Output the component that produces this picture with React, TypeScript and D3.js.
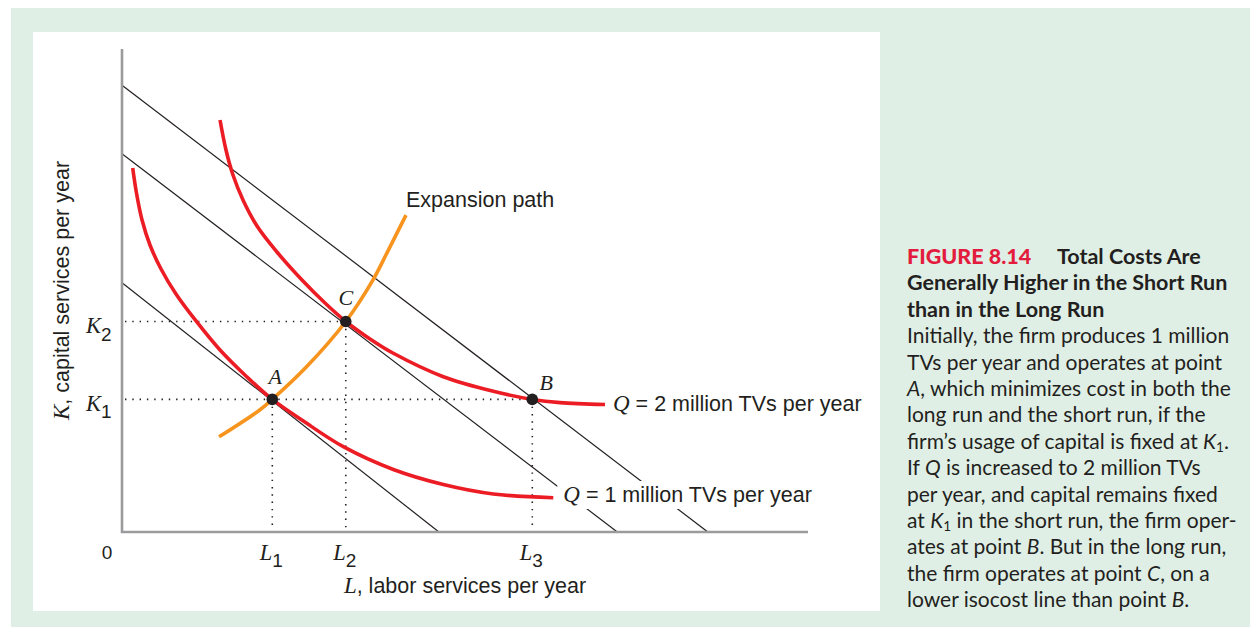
import React from "react";
import * as d3 from "d3";

// ---------- data ----------
// isocost lines: intercepts on K axis and on L axis (low, middle, high)
const isocostK = [5.16, 7.83, 9.25];
const isocostL = [4.62, 7.22, 8.54];

// isoquant Q = 1 million TVs per year  [L, K]
const isoquantQ1: [number, number][] = [
  [0.156, 7.536], [0.211, 7.019], [0.292, 6.46], [0.408, 5.942], [0.569, 5.445],
  [0.787, 4.928], [1.079, 4.369], [1.429, 3.768], [1.818, 3.215], [2.191, 2.745],
  [2.643, 2.298], [3.226, 1.766], [3.955, 1.294], [4.684, 0.983], [5.413, 0.787],
  [6.287, 0.71],
];

// isoquant Q = 2 million TVs per year  [L, K]
const isoquantQ2: [number, number][] = [
  [1.429, 8.53], [1.516, 7.909], [1.618, 7.391], [1.764, 6.874], [1.968, 6.335],
  [2.259, 5.797], [2.624, 5.217], [2.959, 4.741], [3.262, 4.358], [3.615, 3.996],
  [3.955, 3.7], [4.684, 3.215], [5.413, 2.913], [5.981, 2.745], [6.385, 2.679],
  [7.041, 2.64],
];

// expansion path  [L, K]
const expansionPath: [number, number][] = [
  [1.414, 1.97], [2.012, 2.53], [2.191, 2.745], [2.69, 3.42], [3.262, 4.358],
  [3.659, 5.22], [3.863, 5.78], [4.14, 6.56],
];

// labelled points
const pointNames = ["A", "B", "C"];
const pointL = [2.191, 5.981, 3.262];
const pointK = [2.745, 2.745, 4.358];

// axis tick labels
const kTickSubs = ["1", "2"];
const kTickValues = [2.745, 4.358];
const lTickSubs = ["1", "2", "3"];
const lTickValues = [2.191, 3.262, 5.981];

const q1Label = " = 1 million TVs per year";
const q2Label = " = 2 million TVs per year";
const expansionLabel = "Expansion path";
const xTitle = ", labor services per year";
const yTitle = ", capital services per year";

// caption
type Seg = { t: string; i?: boolean; sub?: boolean };
const captionFigure = "FIGURE 8.14";
const captionTitle = ["Total Costs Are", "Generally Higher in the Short Run", "than in the Long Run"];
const captionBody: Seg[][] = [
  [{ t: "Initially, the firm produces 1 million" }],
  [{ t: "TVs per year and operates at point" }],
  [{ t: "A", i: true }, { t: ", which minimizes cost in both the" }],
  [{ t: "long run and the short run, if the" }],
  [{ t: "firm\u2019s usage of capital is fixed at " }, { t: "K", i: true }, { t: "1", sub: true }, { t: "." }],
  [{ t: "If " }, { t: "Q", i: true }, { t: " is increased to 2 million TVs" }],
  [{ t: "per year, and capital remains fixed" }],
  [{ t: "at " }, { t: "K", i: true }, { t: "1", sub: true }, { t: " in the short run, the firm oper-" }],
  [{ t: "ates at point " }, { t: "B", i: true }, { t: ". But in the long run," }],
  [{ t: "the firm operates at point " }, { t: "C", i: true }, { t: ", on a" }],
  [{ t: "lower isocost line than point " }, { t: "B", i: true }, { t: "." }],
];

// ---------- styles ----------
const SANS = "'Liberation Sans', Arial, Helvetica, sans-serif";
const SERIF = "'Liberation Serif', 'Times New Roman', serif";
const CAP = "Lato, 'Open Sans', sans-serif";
const INK = "#231f20";
const RED = "#ec1c24";
const ORANGE = "#f7941d";
const AXIS = "#9b9b9d";

export default function App() {
  const x = d3.scaleLinear().domain([0, 10]).range([122, 808]);
  const y = d3.scaleLinear().domain([0, 10]).range([532, 49]);

  const curve = d3
    .line<[number, number]>()
    .x((d) => x(d[0]))
    .y((d) => y(d[1]))
    .curve(d3.curveCatmullRom.alpha(0.5));

  const dotted = { stroke: INK, strokeWidth: 1.6, strokeDasharray: "1.4 5.9", fill: "none" };

  const capX = 907;
  const capY0 = 264;
  const capLH = 26.4;
  const labelSize = 21.5;

  return (
    <svg
      width={1250}
      height={627}
      viewBox="0 0 1250 627"
      style={{ position: "absolute", left: 0, top: 0, display: "block" }}
    >
      <rect x={0} y={0} width={1250} height={627} fill="#ffffff" />
      <rect x={11} y={8} width={1239} height={619} fill="#e0efe6" />
      <rect x={33} y={32} width={847} height={579} fill="#ffffff" />

      {/* isocost lines */}
      {isocostK.map((k, i) => (
        <line
          key={"iso" + i}
          x1={x(0)}
          y1={y(k)}
          x2={x(isocostL[i])}
          y2={y(0)}
          stroke={INK}
          strokeWidth={1.2}
        />
      ))}

      {/* dotted guides */}
      {pointNames.map((n, i) => (
        <line key={"dg" + n} x1={x(pointL[i])} y1={y(pointK[i])} x2={x(pointL[i])} y2={y(0) - 2} style={dotted} />
      ))}
      <line x1={x(0) + 3} y1={y(kTickValues[0])} x2={x(pointL[1])} y2={y(kTickValues[0])} style={dotted} />
      <line x1={x(0) + 3} y1={y(kTickValues[1])} x2={x(pointL[2])} y2={y(kTickValues[1])} style={dotted} />

      {/* isoquants and expansion path */}
      <path d={curve(expansionPath) || ""} fill="none" stroke={ORANGE} strokeWidth={3.6} />
      <path d={curve(isoquantQ1) || ""} fill="none" stroke={RED} strokeWidth={3.6} />
      <path d={curve(isoquantQ2) || ""} fill="none" stroke={RED} strokeWidth={3.6} />

      {/* label background for Q=1 (breaks isocost lines) */}
      <rect
        x={x(isoquantQ1[isoquantQ1.length - 1][0]) + 4}
        y={481}
        width={255}
        height={28}
        fill="#ffffff"
      />

      {/* axes */}
      <path
        d={`M${x(0)},${y(10)}V${y(0)}H${x(10)}`}
        fill="none"
        stroke={AXIS}
        strokeWidth={2.6}
      />

      {/* points */}
      {pointNames.map((n, i) => (
        <circle key={"pt" + n} cx={x(pointL[i])} cy={y(pointK[i])} r={5.8} fill={INK} />
      ))}
      <text x={x(pointL[0]) + 3} y={y(pointK[0]) - 15.5} fontFamily={SERIF} fontStyle="italic" fontSize={22} fill={INK} textAnchor="middle">
        {pointNames[0]}
      </text>
      <text x={x(pointL[1]) + 14} y={y(pointK[1]) - 9.5} fontFamily={SERIF} fontStyle="italic" fontSize={22} fill={INK} textAnchor="middle">
        {pointNames[1]}
      </text>
      <text x={x(pointL[2])} y={y(pointK[2]) - 16.5} fontFamily={SERIF} fontStyle="italic" fontSize={22} fill={INK} textAnchor="middle">
        {pointNames[2]}
      </text>

      {/* curve labels */}
      <text
        x={x(isoquantQ2[isoquantQ2.length - 1][0]) + 8}
        y={y(isoquantQ2[isoquantQ2.length - 1][1]) + 6.5}
        fontFamily={SANS}
        fontSize={labelSize}
        fill={INK}
      >
        <tspan fontFamily={SERIF} fontStyle="italic" fontSize={23}>Q</tspan>
        {q2Label}
      </text>
      <text
        x={x(isoquantQ1[isoquantQ1.length - 1][0]) + 10}
        y={y(isoquantQ1[isoquantQ1.length - 1][1]) + 4.5}
        fontFamily={SANS}
        fontSize={labelSize}
        fill={INK}
      >
        <tspan fontFamily={SERIF} fontStyle="italic" fontSize={23}>Q</tspan>
        {q1Label}
      </text>
      <text
        x={x(expansionPath[expansionPath.length - 1][0])}
        y={y(expansionPath[expansionPath.length - 1][1]) - 8}
        fontFamily={SANS}
        fontSize={labelSize}
        fill={INK}
      >
        {expansionLabel}
      </text>

      {/* K tick labels */}
      {kTickSubs.map((s, i) => (
        <text key={"kt" + s} x={86} y={y(kTickValues[i]) + 11.5} fontSize={22.5} fill={INK}>
          <tspan fontFamily={SERIF} fontStyle="italic">K</tspan>
          <tspan fontFamily={SANS} fontSize={19} dy={7.5}>{s}</tspan>
        </text>
      ))}
      {/* L tick labels */}
      {lTickSubs.map((s, i) => (
        <text key={"lt" + s} x={x(lTickValues[i]) - 12.5} y={560} fontSize={22.5} fill={INK}>
          <tspan fontFamily={SERIF} fontStyle="italic">L</tspan>
          <tspan fontFamily={SANS} fontSize={19} dy={7}>{s}</tspan>
        </text>
      ))}
      <text x={x(0) - 15} y={559} fontFamily={SANS} fontSize={19} fill={INK} textAnchor="middle">
        0
      </text>

      {/* axis titles */}
      <text x={x(5)} y={593} fontFamily={SANS} fontSize={labelSize} fill={INK} textAnchor="middle">
        <tspan fontFamily={SERIF} fontStyle="italic" fontSize={23}>L</tspan>
        {xTitle}
      </text>
      <text
        transform={`translate(69,${y(5)}) rotate(-90)`}
        fontFamily={SANS}
        fontSize={labelSize}
        fill={INK}
        textAnchor="middle"
      >
        <tspan fontFamily={SERIF} fontStyle="italic" fontSize={23}>K</tspan>
        {yTitle}
      </text>

      {/* caption */}
      <text x={capX} y={capY0} fontFamily={CAP} fontSize={21.5} fontWeight={700} fill={INK}>
        <tspan fill="#e31c3d" fontWeight={900}>{captionFigure}</tspan>
        <tspan x={1057}>{captionTitle[0]}</tspan>
      </text>
      {captionTitle.slice(1).map((t, i) => (
        <text key={"ct" + i} x={capX} y={capY0 + (i + 1) * capLH} fontFamily={CAP} fontSize={21.5} fontWeight={700} fill={INK}>
          {t}
        </text>
      ))}
      {captionBody.map((segs, i) => (
        <text
          key={"cb" + i}
          x={capX}
          y={capY0 + (i + 3) * capLH}
          fontFamily={CAP}
          fontSize={21}
          fill={INK}
        >
          {segs.map((s, j) => {
            const prevSub = j > 0 && segs[j - 1].sub;
            if (s.sub)
              return (
                <tspan key={j} fontSize={13.5} dy={3}>
                  {s.t}
                </tspan>
              );
            return (
              <tspan key={j} fontStyle={s.i ? "italic" : "normal"} dy={prevSub ? -3 : 0}>
                {s.t}
              </tspan>
            );
          })}
        </text>
      ))}
    </svg>
  );
}
